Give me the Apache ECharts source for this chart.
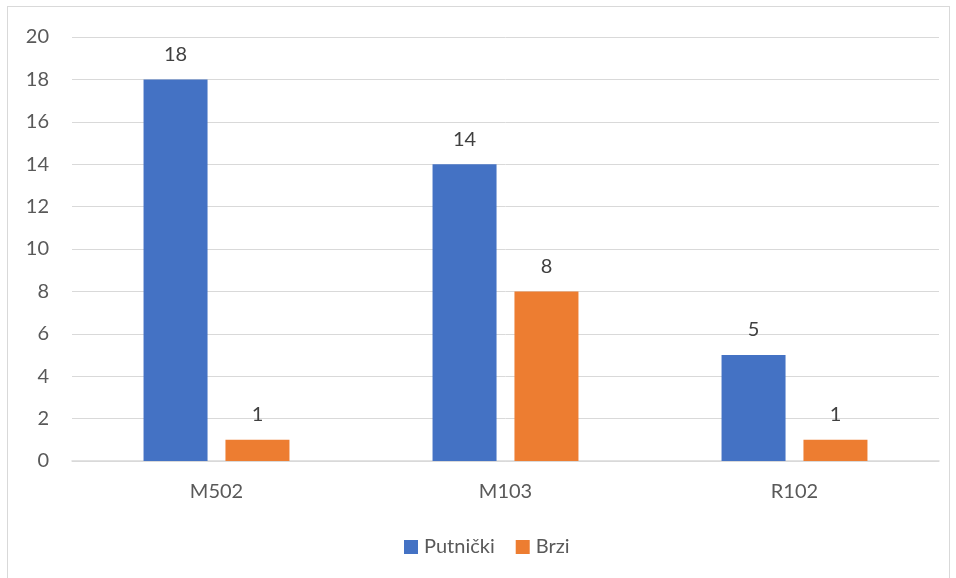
<!DOCTYPE html>
<html>
<head>
<meta charset="utf-8">
<script src="https://cdn.jsdelivr.net/npm/echarts@6/dist/echarts.min.js"></script>
<style>
  html, body { margin: 0; padding: 0; background: #fff; }
  #frame { position: absolute; left: 7px; top: 6px; width: 943px; height: 600px; border: 1px solid #d9d9d9; box-sizing: border-box; }
  #chart { position: absolute; left: 0; top: 0; width: 956px; height: 578px; }
</style>
</head>
<body>
<div id="frame"></div>
<div id="chart"></div>
<script>
const categories = ['M502', 'M103', 'R102'];
const putnicki = [18, 14, 5];
const brzi = [1, 8, 1];
const seriesNames = ['Putnički', 'Brzi'];
const yTicks = { min: 0, max: 20, interval: 2 };

const chart = echarts.init(document.getElementById('chart'), null, { renderer: 'canvas' });
const font = 'Lato, "Open Sans", sans-serif';
const labelStyle = {
  show: true, position: 'top', distance: 15,
  color: '#404040', fontSize: 20, fontFamily: font
};
chart.setOption({
  animation: false,
  grid: { left: 72, right: 17, top: 37, bottom: 117, containLabel: false },
  legend: {
    data: seriesNames,
    top: 532,
    left: 399,
    itemWidth: 14, itemHeight: 14, itemGap: 21,
    icon: 'rect',
    textStyle: { color: '#595959', fontSize: 20, fontFamily: font, padding: [0, 0, 0, 1] }
  },
  xAxis: {
    type: 'category',
    data: categories,
    axisLine: { lineStyle: { color: '#d9d9d9', width: 1.5 } },
    axisTick: { show: false },
    axisLabel: { color: '#595959', fontSize: 20, fontFamily: font, margin: 21 }
  },
  yAxis: {
    type: 'value',
    min: yTicks.min, max: yTicks.max, interval: yTicks.interval,
    axisLine: { show: false },
    axisTick: { show: false },
    splitLine: { lineStyle: { color: '#d9d9d9', width: 1 } },
    axisLabel: { color: '#595959', fontSize: 20, fontFamily: font, margin: 23 }
  },
  series: [
    { name: seriesNames[0], type: 'bar', data: putnicki, barWidth: 64, barGap: '28%',
      itemStyle: { color: '#4472c4' }, label: labelStyle },
    { name: seriesNames[1], type: 'bar', data: brzi, barWidth: 64,
      itemStyle: { color: '#ed7d31' }, label: labelStyle }
  ]
});
</script>
</body>
</html>
